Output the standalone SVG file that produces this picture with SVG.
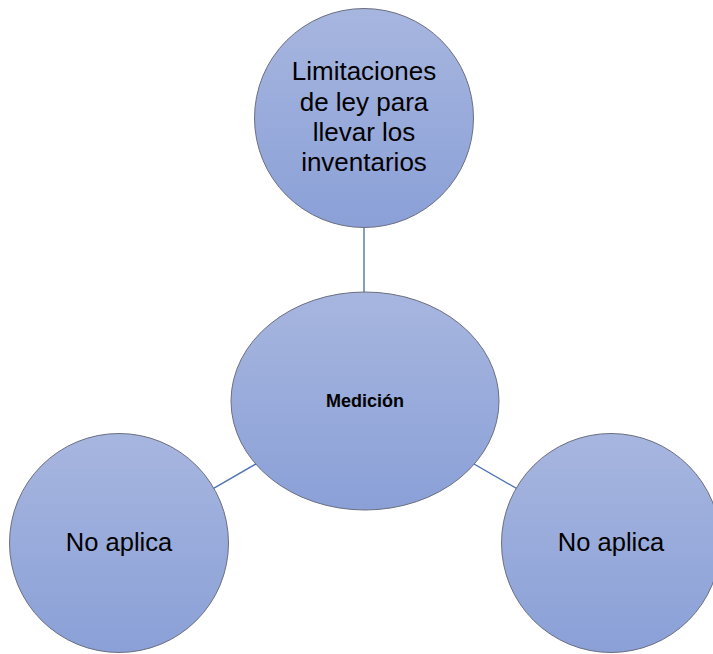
<svg xmlns="http://www.w3.org/2000/svg" width="713" height="654" viewBox="0 0 713 654">
<defs>
<linearGradient id="g" x1="0" y1="0" x2="0" y2="1">
<stop offset="0" stop-color="#a7b6df"/>
<stop offset="1" stop-color="#8aa0d7"/>
</linearGradient>
<style>
.n{fill:url(#g);stroke:#6b6f80;stroke-width:1}
.c{stroke:#4f73b5;stroke-width:1.4;fill:none}
.t{font-family:"Liberation Sans",Arial,sans-serif;fill:#000;text-anchor:middle}
</style>
</defs>
<rect width="713" height="654" fill="#fff"/>
<g id="connectors">
<line class="c" x1="364" y1="118" x2="364" y2="401"/>
<line class="c" x1="119" y1="543" x2="365" y2="401"/>
<line class="c" x1="365" y1="401" x2="611" y2="543"/>
</g>
<g id="node-top">
<circle class="n" cx="364" cy="118" r="109.5"/>
<text class="t" font-size="26" x="364"><tspan x="364" y="80">Limitaciones</tspan><tspan x="364" y="110.5">de ley para</tspan><tspan x="364" y="141">llevar los</tspan><tspan x="364" y="171">inventarios</tspan></text>
</g>
<g id="node-center">
<ellipse class="n" cx="365" cy="401" rx="134" ry="109"/>
<text class="t" font-size="18" font-weight="bold" x="365" y="407">Medición</text>
</g>
<g id="node-left">
<circle class="n" cx="119" cy="543" r="109.5"/>
<text class="t" font-size="25.5" x="119" y="551">No aplica</text>
</g>
<g id="node-right">
<circle class="n" cx="611" cy="543" r="109.5"/>
<text class="t" font-size="25.5" x="611" y="551">No aplica</text>
</g>
</svg>
